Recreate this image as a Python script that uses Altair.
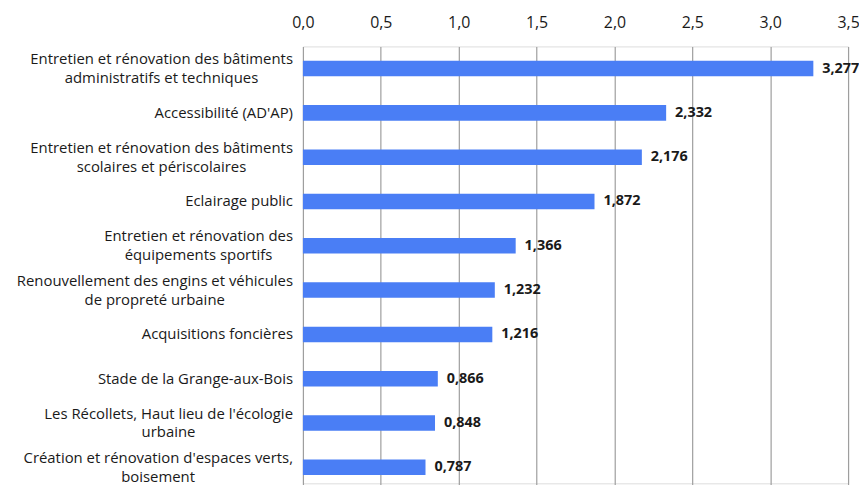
import glob
import altair as alt
import pandas as pd

categories = [
    "Entretien et rénovation des bâtiments\nadministratifs et techniques",
    "Accessibilité (AD'AP)",
    "Entretien et rénovation des bâtiments\nscolaires et périscolaires",
    "Eclairage public",
    "Entretien et rénovation des\néquipements sportifs",
    "Renouvellement des engins et véhicules\nde propreté urbaine",
    "Acquisitions foncières",
    "Stade de la Grange-aux-Bois",
    "Les Récollets, Haut lieu de l'écologie\nurbaine",
    "Création et rénovation d'espaces verts,\nboisement",
]
values = [3.277, 2.332, 2.176, 1.872, 1.366, 1.232, 1.216, 0.866, 0.848, 0.787]
x_ticks = [0, 0.5, 1.0, 1.5, 2.0, 2.5, 3.0, 3.5]

FONT = "Open Sans"
LABEL_SIZE = 15
BAR = "#4A7EF5"
TXT = "#1a1a1a"
LABEL_GAP = 10


# --- text width measurement (layout only), used to centre wrapped lines ---
def _make_measurer():
    try:
        from PIL import ImageFont
        paths = sorted(glob.glob("/usr/share/fonts/**/OpenSans*.ttf", recursive=True))
        paths = [p for p in paths if "Italic" not in p] or paths
        if paths:
            f = ImageFont.truetype(paths[0], LABEL_SIZE)
            return lambda s: f.getlength(s)
    except Exception:
        pass
    adv = {" ": 532, "a": 1139, "b": 1255, "c": 975, "d": 1255, "e": 1149, "é": 1149,
           "è": 1149, "f": 694, "g": 1122, "h": 1257, "i": 518, "j": 518, "k": 1075,
           "l": 518, "m": 1905, "n": 1257, "o": 1237, "p": 1255, "q": 1255, "r": 836,
           "s": 977, "t": 723, "u": 1257, "v": 1026, "w": 1593, "x": 1073, "y": 1028,
           "z": 977, "â": 1139, ",": 502, "'": 342, "(": 606, ")": 606}
    return lambda s: sum(adv.get(ch, 1300) for ch in s) * LABEL_SIZE / 2048


measure = _make_measurer()

line1, line2, cx2 = [], [], []
for c in categories:
    parts = c.split("\n")
    line1.append(parts[0])
    line2.append(parts[1] if len(parts) > 1 else "")
    w1 = measure(parts[0])
    cx2.append(-(LABEL_GAP + w1 / 2.0))

df = pd.DataFrame({"cat": categories, "val": values, "l1": line1, "l2": line2,
                   "cx2": cx2, "multi": [bool(s) for s in line2]})

y_scale = alt.Scale(range=[0, 446.2], paddingInner=0.65, paddingOuter=0.325)
y_enc = alt.Y("cat:N", sort=None, scale=y_scale, axis=None)

x_enc = alt.X(
    "val:Q",
    scale=alt.Scale(domain=[0, 3.5], nice=False, zero=True),
    axis=alt.Axis(
        orient="top",
        title=None,
        values=x_ticks,
        domain=False,
        ticks=False,
        labelFlush=False,
        labelPadding=16,
        labelFont=FONT,
        labelFontSize=16,
        labelColor=TXT,
        labelExpr="replace(format(datum.value, '.1f'), '.', ',')",
        grid=True,
        gridColor="#9e9e9e",
        gridWidth=1.2,
    ),
)

base = alt.Chart(df)

bars = base.mark_bar(color=BAR).encode(x=x_enc, y=y_enc)

values_txt = (
    base.transform_calculate(lbl="replace(format(datum.val, '.3f'), '.', ',')")
    .mark_text(align="left", baseline="middle", dx=9, font=FONT, fontSize=14.5,
               fontWeight="bold", color=TXT)
    .encode(x="val:Q", y=alt.Y("cat:N", sort=None), text="lbl:N")
)

txt_kw = dict(baseline="middle", font=FONT, fontSize=LABEL_SIZE, color=TXT)

single = (
    base.transform_filter("!datum.multi")
    .mark_text(align="right", **txt_kw)
    .encode(x=alt.value(-LABEL_GAP), y=alt.Y("cat:N", sort=None), text="l1:N")
)
first = (
    base.transform_filter("datum.multi")
    .mark_text(align="right", dy=-9.5, **txt_kw)
    .encode(x=alt.value(-LABEL_GAP), y=alt.Y("cat:N", sort=None), text="l1:N")
)
second = (
    base.transform_filter("datum.multi")
    .mark_text(align="center", dy=9.5, **txt_kw)
    .encode(x=alt.X("cx2:Q", scale=None), y=alt.Y("cat:N", sort=None), text="l2:N")
)

chart = (
    alt.layer(bars, values_txt, single, first, second)
    .properties(
        width=549,
        height=440,
        autosize=alt.AutoSizeParams(type="none"),
        padding={"left": 297, "top": 37, "right": 11, "bottom": 0},
    )
    .configure_view(stroke=None)
    .configure(background="white")
)

chart.save("out.html", embed_options={"renderer": "svg", "actions": False})
